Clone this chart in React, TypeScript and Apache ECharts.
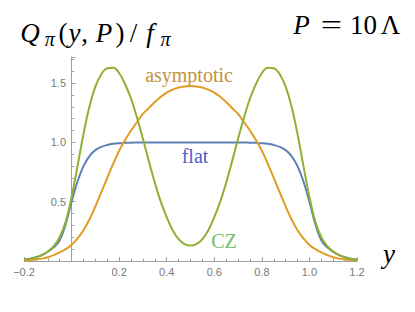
import React, { useEffect, useRef } from "react";
import * as echarts from "echarts";

const xs: number[] = [
  -0.2, -0.175, -0.15, -0.125, -0.1, -0.075, -0.05, -0.025, 0, 0.025, 0.05, 0.075, 0.1, 0.125, 0.15, 0.175,
  0.2, 0.225, 0.25, 0.275, 0.3, 0.325, 0.35, 0.375, 0.4, 0.425, 0.45, 0.475, 0.5, 0.525, 0.55, 0.575,
  0.6, 0.625, 0.65, 0.675, 0.7, 0.725, 0.75, 0.775, 0.8, 0.825, 0.85, 0.875, 0.9, 0.925, 0.95, 0.975,
  1.0, 1.025, 1.05, 1.075, 1.1, 1.125, 1.15, 1.175, 1.2,
];

const flatValues: number[] = [
  0.012, 0.02, 0.032, 0.05, 0.078, 0.115, 0.175, 0.31, 0.5, 0.67, 0.8, 0.885, 0.935, 0.962, 0.978, 0.988,
  0.993, 0.996, 0.998, 0.999, 1, 1, 1, 1, 1, 1, 1, 1, 1, 1, 1, 1,
  1, 1, 1, 1, 1, 0.999, 0.998, 0.996, 0.993, 0.988, 0.978, 0.962, 0.935, 0.885, 0.8, 0.67,
  0.5, 0.31, 0.175, 0.115, 0.078, 0.05, 0.032, 0.02, 0.012,
];

const asymptoticValues: number[] = [
  0.005, 0.008, 0.013, 0.02, 0.032, 0.05, 0.072, 0.1, 0.135, 0.19, 0.26, 0.35, 0.46, 0.58, 0.7, 0.82,
  0.93, 1.02, 1.1, 1.17, 1.24, 1.29, 1.34, 1.385, 1.42, 1.445, 1.463, 1.472, 1.475, 1.472, 1.463, 1.445,
  1.42, 1.385, 1.34, 1.29, 1.24, 1.17, 1.1, 1.02, 0.93, 0.82, 0.7, 0.58, 0.46, 0.35, 0.26, 0.19,
  0.135, 0.1, 0.072, 0.05, 0.032, 0.02, 0.013, 0.008, 0.005,
];

const czValues: number[] = [
  0.01, 0.018, 0.03, 0.05, 0.08, 0.125, 0.2, 0.33, 0.54, 0.8, 1.07, 1.3, 1.47, 1.575, 1.625, 1.63,
  1.585, 1.49, 1.37, 1.21, 1.03, 0.84, 0.66, 0.5, 0.37, 0.26, 0.185, 0.143, 0.13, 0.143, 0.185, 0.26,
  0.37, 0.5, 0.66, 0.84, 1.03, 1.21, 1.37, 1.49, 1.585, 1.63, 1.625, 1.575, 1.47, 1.3, 1.07, 0.8,
  0.54, 0.33, 0.2, 0.125, 0.08, 0.05, 0.03, 0.018, 0.01,
];

const xTickLabels: string[] = ["\u22120.2", "", "0.2", "0.4", "0.6", "0.8", "1.0", "1.2"];
const yTickLabels: string[] = ["", "0.5", "1.0", "1.5"];

const seriesNames = ["flat", "asymptotic", "CZ"];
const seriesColors = ["#5E81B5", "#E19C24", "#8FB131"];

const SERIF = "'Liberation Serif', 'DejaVu Serif', serif";

function mathText(
  x: number,
  y: number,
  text: string,
  size: number,
  italic: boolean,
  color = "#000",
  scaleX = 1
) {
  return {
    type: "text",
    x,
    y,
    scaleX,
    style: {
      text,
      font: `${italic ? "italic" : "normal"} normal ${size}px ${SERIF}`,
      fontFamily: SERIF,
      fontSize: size,
      fontStyle: italic ? "italic" : "normal",
      fill: color,
      align: "center",
      verticalAlign: "middle",
    },
  };
}

export default function App() {
  const ref = useRef<HTMLDivElement>(null);
  useEffect(() => {
    if (!ref.current) return;
    const chart = echarts.init(ref.current, undefined, { renderer: "svg" });
    const pair = (vals: number[]) => xs.map((x, i) => [x, vals[i]]);
    const axisGray = "#a0a0a0";
    const labelGray = "#7a7a7a";
    chart.setOption({
      animation: false,
      backgroundColor: "#ffffff",
      grid: { left: 24, right: 58, top: 57, bottom: 51, containLabel: false, outerBoundsMode: "none" },
      xAxis: {
        type: "value",
        min: -0.2,
        max: 1.2,
        interval: 0.2,
        axisLine: { show: true, onZero: true, lineStyle: { color: axisGray, width: 1 } },
        axisTick: { show: true, inside: true, length: 4, lineStyle: { color: axisGray } },
        minorTick: { show: true, splitNumber: 4, length: 2.5, lineStyle: { color: axisGray } },
        splitLine: { show: false },
        axisLabel: {
          color: labelGray,
          fontSize: 11,
          fontFamily: "'Liberation Sans', Arial, sans-serif",
          margin: 5,
          showMinLabel: true,
          showMaxLabel: true,
          formatter: (v: number) => {
            const idx = Math.round((v + 0.2) / 0.2);
            if (Math.abs(v - (-0.2 + idx * 0.2)) > 1e-6) return "";
            return xTickLabels[idx] ?? "";
          },
        },
      },
      yAxis: {
        type: "value",
        min: 0,
        max: 1.72,
        interval: 0.5,
        axisLine: { show: true, onZero: true, lineStyle: { color: axisGray, width: 1 } },
        axisTick: { show: true, inside: true, length: 4, lineStyle: { color: axisGray } },
        minorTick: { show: true, splitNumber: 5, length: 2.5, lineStyle: { color: axisGray } },
        splitLine: { show: false },
        axisLabel: {
          color: labelGray,
          fontSize: 11,
          fontFamily: "'Liberation Sans', Arial, sans-serif",
          margin: -42,
          showMaxLabel: false,
          formatter: (v: number) => {
            const idx = Math.round(v / 0.5);
            if (Math.abs(v - idx * 0.5) > 1e-6) return "";
            return yTickLabels[idx] ?? "";
          },
        },
      },
      series: seriesNames.map((name, k) => ({
        name,
        type: "line",
        data: pair([flatValues, asymptoticValues, czValues][k]),
        smooth: 0.4,
        showSymbol: false,
        symbol: "none",
        lineStyle: { color: seriesColors[k], width: 2 },
        itemStyle: { color: seriesColors[k] },
        z: 2 + k,
      })),
      graphic: [
        // title Q_pi(y, P)/f_pi
        mathText(30, 33, "Q", 27, true),
        mathText(49.7, 38.5, "\u03C0", 20, true),
        mathText(63, 33, "(", 27, false),
        mathText(74.5, 33, "y", 27, true),
        mathText(84.5, 33, ",", 27, false),
        mathText(104, 33, "P", 27, true),
        mathText(120, 33, ")", 27, false),
        mathText(133.5, 33, "/", 27, false),
        mathText(150, 33, "f", 27, true),
        mathText(165.5, 38.5, "\u03C0", 20, true),
        // P = 10 Lambda
        mathText(301.5, 25, "P", 27, true),
        mathText(331.5, 25, "=", 27, false, "#000", 1.4),
        mathText(363.5, 25, "10", 27, false),
        mathText(390.5, 25, "\u039B", 27, false),
        // axis label y
        mathText(389, 254, "y", 27, true),
        // curve labels
        mathText(189, 75, "asymptotic", 20, false, "#C3923A"),
        mathText(195, 156, "flat", 20, false, "#4E5FC4"),
        mathText(224, 241, "CZ", 20, false, "#6DBF6A"),
      ],
    });
    return () => chart.dispose();
  }, []);
  return (
    <div
      ref={ref}
      style={{ position: "absolute", left: 0, top: 0, width: 415, height: 312, background: "#fff" }}
    />
  );
}
